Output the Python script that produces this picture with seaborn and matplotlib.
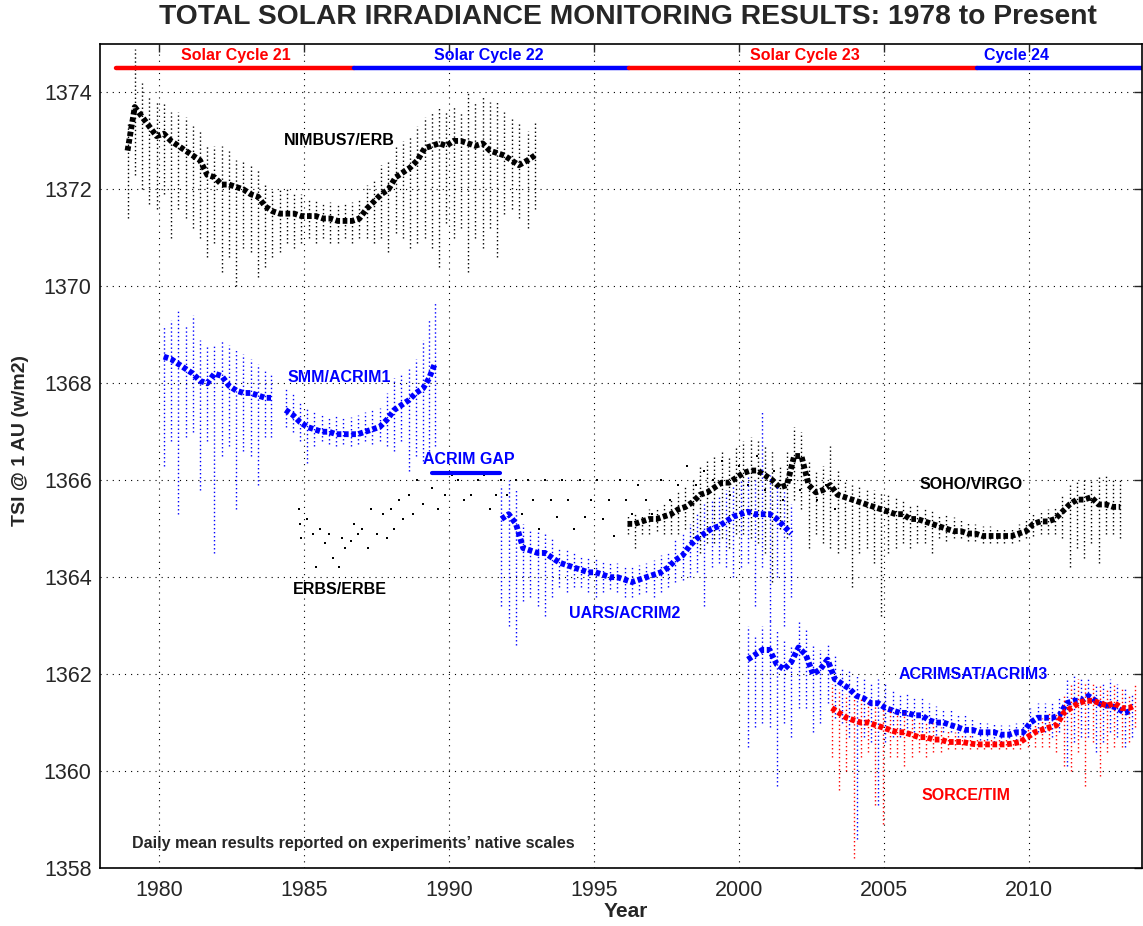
#!/usr/bin/env python3
# -*- coding: utf-8 -*-
"""
TSI monitoring results 1978 - present (daily mean, native scales)
"""

import numpy as np
import matplotlib
matplotlib.use('Agg')
import matplotlib.pyplot as plt
import seaborn as sns

sns.set_style('white')
plt.rcParams['font.family'] = ['Liberation Sans', 'DejaVu Sans']

BLACK = '#000000'
BLUE = '#0000ff'
RED = '#ff0000'

# ---- NIMBUS7/ERB: year, upper spread, core, lower spread
NIMBUS_YEAR = [1978.9, 1979.15, 1979.4, 1979.65, 1979.9, 1980.15, 1980.4, 1980.65, 1980.9,
               1981.15, 1981.4, 1981.65, 1981.9, 1982.15, 1982.4, 1982.65, 1982.9,
               1983.15, 1983.4, 1983.65, 1983.9, 1984.15, 1984.4, 1984.65, 1984.9,
               1985.15, 1985.4, 1985.65, 1985.9, 1986.15, 1986.4, 1986.65, 1986.9,
               1987.15, 1987.4, 1987.65, 1987.9, 1988.15, 1988.4, 1988.65, 1988.9,
               1989.15, 1989.4, 1989.65, 1989.9, 1990.15, 1990.4, 1990.65, 1990.9,
               1991.15, 1991.4, 1991.65, 1991.9, 1992.15, 1992.4, 1992.7, 1992.95]
NIMBUS_HI = [1373.4, 1374.9, 1374.2, 1373.9, 1373.8, 1373.8, 1373.6, 1373.6, 1373.5,
             1373.3, 1373.2, 1372.9, 1372.9, 1372.9, 1372.8, 1372.6, 1372.6,
             1372.5, 1372.4, 1372.1, 1372.0, 1372.0, 1372.0, 1371.9, 1371.9,
             1371.8, 1371.8, 1371.75, 1371.75, 1371.7, 1371.7, 1371.75, 1371.8,
             1372.1, 1372.2, 1372.5, 1372.6, 1372.9, 1373.0, 1373.1, 1373.3,
             1373.5, 1373.6, 1373.7, 1373.6, 1373.7, 1373.6, 1374.0, 1373.8,
             1373.9, 1373.8, 1373.8, 1373.6, 1373.5, 1373.4, 1373.2, 1373.4]
NIMBUS_MID = [1372.8, 1373.7, 1373.5, 1373.3, 1373.1, 1373.15, 1373.0, 1372.9, 1372.8,
              1372.7, 1372.6, 1372.3, 1372.25, 1372.1, 1372.1, 1372.05, 1372.0,
              1371.9, 1371.85, 1371.65, 1371.55, 1371.5, 1371.5, 1371.5, 1371.45,
              1371.45, 1371.45, 1371.4, 1371.4, 1371.35, 1371.35, 1371.35, 1371.4,
              1371.6, 1371.75, 1371.9, 1372.0, 1372.25, 1372.35, 1372.45, 1372.6,
              1372.85, 1372.9, 1372.95, 1372.9, 1373.0, 1373.0, 1372.95, 1372.9,
              1372.95, 1372.8, 1372.75, 1372.7, 1372.6, 1372.5, 1372.6, 1372.7]
NIMBUS_LO = [1371.4, 1372.3, 1372.0, 1371.7, 1371.6, 1371.9, 1371.0, 1371.6, 1371.4,
             1371.2, 1371.0, 1370.6, 1370.9, 1370.3, 1370.6, 1370.0, 1370.8,
             1370.7, 1370.2, 1370.4, 1370.6, 1370.7, 1370.9, 1370.8, 1370.9,
             1371.0, 1370.9, 1371.0, 1370.9, 1370.9, 1371.0, 1370.9, 1371.0,
             1371.0, 1370.9, 1371.0, 1370.7, 1371.1, 1371.0, 1370.8, 1370.9,
             1371.0, 1370.8, 1370.4, 1371.3, 1371.0, 1371.2, 1370.3, 1371.0,
             1370.8, 1371.2, 1370.6, 1371.5, 1371.6, 1371.4, 1371.2, 1371.6]

# ---- SMM/ACRIM1 (two segments: before / after the 1984 repair)
ACRIM1_YEAR = [1980.15, 1980.4, 1980.65, 1980.9, 1981.15, 1981.4, 1981.65, 1981.9,
               1982.15, 1982.4, 1982.65, 1982.9, 1983.15, 1983.4, 1983.65, 1983.85,
               1984.35, 1984.6, 1984.85, 1985.1, 1985.35, 1985.6, 1985.85, 1986.1,
               1986.35, 1986.6, 1986.85, 1987.1, 1987.35, 1987.6, 1987.85, 1988.1,
               1988.35, 1988.6, 1988.85, 1989.1, 1989.3, 1989.5]
ACRIM1_HI = [1369.2, 1369.3, 1369.5, 1369.2, 1369.4, 1368.9, 1368.8, 1368.8,
             1368.9, 1368.8, 1368.7, 1368.6, 1368.5, 1368.4, 1368.3, 1368.2,
             1367.9, 1367.8, 1367.6, 1367.5, 1367.4, 1367.35, 1367.3, 1367.35,
             1367.3, 1367.3, 1367.35, 1367.4, 1367.45, 1367.5, 1367.8, 1368.1,
             1368.2, 1368.3, 1368.5, 1368.9, 1369.3, 1369.7]
ACRIM1_MID = [1368.55, 1368.5, 1368.4, 1368.3, 1368.2, 1368.05, 1368.0, 1368.2,
              1368.15, 1367.95, 1367.85, 1367.8, 1367.8, 1367.75, 1367.7, 1367.7,
              1367.45, 1367.35, 1367.2, 1367.1, 1367.05, 1367.0, 1367.0, 1366.95,
              1366.95, 1366.95, 1366.95, 1367.0, 1367.05, 1367.1, 1367.25, 1367.45,
              1367.55, 1367.65, 1367.8, 1367.9, 1368.1, 1368.4]
ACRIM1_LO = [1366.3, 1366.8, 1365.3, 1366.9, 1367.0, 1365.8, 1366.8, 1364.5,
             1366.5, 1366.7, 1365.4, 1366.6, 1366.5, 1365.9, 1366.9, 1366.9,
             1367.1, 1367.0, 1366.8, 1366.35, 1366.7, 1366.8, 1366.75, 1366.7,
             1366.75, 1366.7, 1366.75, 1366.8, 1366.75, 1366.8, 1366.7, 1366.6,
             1366.8, 1366.2, 1366.5, 1366.4, 1366.6, 1366.7]
ACRIM1_SPLIT = 16

# ---- UARS/ACRIM2
ACRIM2_YEAR = [1991.8, 1992.05, 1992.3, 1992.55, 1992.8, 1993.05, 1993.3, 1993.55,
               1993.8, 1994.05, 1994.3, 1994.55, 1994.8, 1995.05, 1995.3, 1995.55,
               1995.8, 1996.05, 1996.3, 1996.55, 1996.8, 1997.05, 1997.3, 1997.55,
               1997.8, 1998.05, 1998.3, 1998.55, 1998.8, 1999.05, 1999.3, 1999.55,
               1999.8, 2000.05, 2000.3, 2000.55, 2000.8, 2001.05, 2001.3, 2001.55,
               2001.8]
ACRIM2_HI = [1365.9, 1366.0, 1365.8, 1365.1, 1365.0, 1364.95, 1364.9, 1364.8,
             1364.6, 1364.6, 1364.5, 1364.45, 1364.4, 1364.4, 1364.35, 1364.3,
             1364.3, 1364.25, 1364.2, 1364.25, 1364.3, 1364.35, 1364.45, 1364.55,
             1364.8, 1364.9, 1365.1, 1365.3, 1365.5, 1365.6, 1365.7, 1365.8,
             1365.9, 1366.0, 1366.1, 1366.0, 1367.4, 1366.1, 1365.9, 1365.8,
             1365.5]
ACRIM2_MID = [1365.2, 1365.3, 1365.1, 1364.6, 1364.55, 1364.5, 1364.5, 1364.4,
              1364.3, 1364.25, 1364.2, 1364.15, 1364.1, 1364.1, 1364.05, 1364.0,
              1364.0, 1363.95, 1363.9, 1363.95, 1364.0, 1364.05, 1364.1, 1364.2,
              1364.35, 1364.45, 1364.65, 1364.8, 1364.9, 1365.0, 1365.05, 1365.15,
              1365.25, 1365.3, 1365.35, 1365.3, 1365.3, 1365.3, 1365.2, 1365.05,
              1364.9]
ACRIM2_LO = [1363.4, 1363.0, 1362.6, 1363.5, 1363.6, 1363.4, 1363.2, 1363.6,
             1363.8, 1363.7, 1363.8, 1363.8, 1363.7, 1363.6, 1363.7, 1363.75,
             1363.7, 1363.6, 1363.6, 1363.65, 1363.7, 1363.6, 1363.7, 1363.8,
             1363.9, 1363.95, 1364.0, 1364.1, 1363.4, 1364.2, 1364.3, 1364.2,
             1364.0, 1364.2, 1364.3, 1363.4, 1364.2, 1363.1, 1364.0, 1363.0,
             1363.6]

# ---- SOHO/VIRGO
VIRGO_YEAR = [1996.15, 1996.4, 1996.65, 1996.9, 1997.15, 1997.4, 1997.65, 1997.9,
              1998.15, 1998.4, 1998.65, 1998.9, 1999.15, 1999.4, 1999.65, 1999.9,
              2000.15, 2000.4, 2000.65, 2000.9, 2001.15, 2001.4, 2001.65, 2001.9,
              2002.15, 2002.4, 2002.65, 2002.9, 2003.15, 2003.4, 2003.65, 2003.9,
              2004.15, 2004.4, 2004.65, 2004.9, 2005.15, 2005.4, 2005.65, 2005.9,
              2006.15, 2006.4, 2006.65, 2006.9, 2007.15, 2007.4, 2007.65, 2007.9,
              2008.15, 2008.4, 2008.65, 2008.9, 2009.15, 2009.4, 2009.65, 2009.9,
              2010.15, 2010.4, 2010.65, 2010.9, 2011.15, 2011.4, 2011.65, 2011.9,
              2012.15, 2012.4, 2012.65, 2012.9, 2013.15]
VIRGO_HI = [1365.3, 1365.3, 1365.3, 1365.4, 1365.45, 1365.5, 1365.6, 1365.8,
            1365.9, 1366.0, 1366.3, 1366.4, 1366.5, 1366.6, 1366.5, 1366.7,
            1366.8, 1366.9, 1366.8, 1366.7, 1366.6, 1366.3, 1366.6, 1367.1,
            1367.0, 1366.4, 1366.2, 1366.3, 1366.7, 1366.2, 1366.0, 1365.9,
            1365.9, 1365.8, 1365.8, 1365.75, 1365.7, 1365.65, 1365.6, 1365.5,
            1365.5, 1365.4, 1365.4, 1365.3, 1365.3, 1365.25, 1365.2, 1365.15,
            1365.1, 1365.05, 1365.05, 1365.0, 1365.0, 1365.0, 1365.1, 1365.2,
            1365.3, 1365.35, 1365.4, 1365.45, 1365.7, 1365.9, 1366.0, 1366.0,
            1366.0, 1366.1, 1366.1, 1366.0, 1366.0]
VIRGO_MID = [1365.1, 1365.1, 1365.15, 1365.2, 1365.2, 1365.25, 1365.3, 1365.4,
             1365.45, 1365.55, 1365.7, 1365.75, 1365.85, 1365.95, 1365.95, 1366.05,
             1366.15, 1366.2, 1366.2, 1366.1, 1366.0, 1365.85, 1365.9, 1366.5,
             1366.5, 1365.9, 1365.75, 1365.8, 1365.9, 1365.7, 1365.65, 1365.6,
             1365.55, 1365.5, 1365.45, 1365.4, 1365.35, 1365.3, 1365.3, 1365.2,
             1365.2, 1365.15, 1365.1, 1365.05, 1365.0, 1364.95, 1364.95, 1364.9,
             1364.9, 1364.85, 1364.85, 1364.85, 1364.85, 1364.85, 1364.9, 1364.95,
             1365.1, 1365.15, 1365.15, 1365.2, 1365.35, 1365.5, 1365.6, 1365.6,
             1365.65, 1365.5, 1365.5, 1365.45, 1365.45]
VIRGO_LO = [1364.9, 1364.6, 1364.9, 1364.9, 1364.95, 1364.9, 1364.9, 1364.9,
            1365.0, 1364.8, 1364.5, 1364.7, 1364.7, 1364.8, 1364.6, 1364.9,
            1364.9, 1364.8, 1364.7, 1364.5, 1363.9, 1365.0, 1364.8, 1365.6,
            1365.4, 1364.6, 1364.9, 1364.7, 1364.6, 1364.5, 1364.6, 1363.8,
            1364.5, 1364.6, 1364.3, 1363.2, 1364.5, 1364.6, 1364.7, 1364.6,
            1364.7, 1364.7, 1364.5, 1364.8, 1364.75, 1364.8, 1364.8, 1364.75,
            1364.75, 1364.7, 1364.7, 1364.7, 1364.7, 1364.7, 1364.75, 1364.8,
            1364.85, 1364.9, 1364.9, 1364.9, 1364.8, 1364.2, 1364.6, 1364.4,
            1364.7, 1364.3, 1364.9, 1364.9, 1364.8]

# ---- ACRIMSAT/ACRIM3
ACRIM3_YEAR = [2000.3, 2000.55, 2000.8, 2001.05, 2001.3, 2001.55, 2001.8, 2002.05,
               2002.3, 2002.55, 2002.8, 2003.05, 2003.3, 2003.55, 2003.8, 2004.05,
               2004.3, 2004.55, 2004.8, 2005.05, 2005.3, 2005.55, 2005.8, 2006.05,
               2006.3, 2006.55, 2006.8, 2007.05, 2007.3, 2007.55, 2007.8, 2008.05,
               2008.3, 2008.55, 2008.8, 2009.05, 2009.3, 2009.55, 2009.8, 2010.05,
               2010.3, 2010.55, 2010.8, 2011.05, 2011.3, 2011.55, 2011.8, 2012.05,
               2012.3, 2012.55, 2012.8, 2013.05, 2013.3, 2013.55]
ACRIM3_HI = [1363.0, 1362.8, 1363.0, 1363.1, 1362.9, 1362.7, 1362.6, 1363.1,
             1362.9, 1362.6, 1362.5, 1362.6, 1362.4, 1362.1, 1362.1, 1362.0,
             1361.9, 1361.8, 1361.9, 1361.8, 1361.7, 1361.6, 1361.6, 1361.5,
             1361.5, 1361.4, 1361.35, 1361.3, 1361.25, 1361.2, 1361.15, 1361.1,
             1361.05, 1361.0, 1361.0, 1360.95, 1360.95, 1361.0, 1361.05, 1361.3,
             1361.4, 1361.4, 1361.4, 1361.5, 1361.9, 1362.0, 1361.9, 1361.9,
             1361.8, 1361.8, 1361.9, 1361.8, 1361.7, 1361.6]
ACRIM3_MID = [1362.3, 1362.4, 1362.5, 1362.5, 1362.2, 1362.1, 1362.25, 1362.55,
              1362.4, 1362.0, 1362.1, 1362.3, 1361.9, 1361.8, 1361.7, 1361.55,
              1361.5, 1361.4, 1361.4, 1361.3, 1361.25, 1361.2, 1361.2, 1361.15,
              1361.15, 1361.05, 1361.0, 1361.0, 1360.95, 1360.9, 1360.85, 1360.85,
              1360.8, 1360.8, 1360.8, 1360.75, 1360.75, 1360.8, 1360.8, 1361.0,
              1361.1, 1361.1, 1361.1, 1361.15, 1361.4, 1361.45, 1361.45, 1361.55,
              1361.45, 1361.35, 1361.35, 1361.3, 1361.2, 1361.25]
ACRIM3_LO = [1360.5, 1360.9, 1361.0, 1360.9, 1359.7, 1361.0, 1360.7, 1361.3,
             1361.3, 1360.8, 1361.0, 1361.4, 1361.1, 1361.0, 1360.7, 1358.6,
             1360.7, 1360.6, 1359.3, 1360.6, 1360.7, 1360.7, 1360.8, 1360.8,
             1360.8, 1360.8, 1360.75, 1360.8, 1360.8, 1360.7, 1360.7, 1360.7,
             1360.65, 1360.65, 1360.6, 1360.6, 1360.6, 1360.65, 1360.65, 1360.7,
             1360.8, 1360.8, 1360.7, 1360.8, 1360.1, 1360.6, 1360.7, 1360.7,
             1360.4, 1360.6, 1360.8, 1360.7, 1360.5, 1360.7]

# ---- SORCE/TIM
TIM_YEAR = [2003.2, 2003.45, 2003.7, 2003.95, 2004.2, 2004.45, 2004.7, 2004.95,
            2005.2, 2005.45, 2005.7, 2005.95, 2006.2, 2006.45, 2006.7, 2006.95,
            2007.2, 2007.45, 2007.7, 2007.95, 2008.2, 2008.45, 2008.7, 2008.95,
            2009.2, 2009.45, 2009.7, 2009.95, 2010.2, 2010.45, 2010.7, 2010.95,
            2011.2, 2011.45, 2011.7, 2011.95, 2012.2, 2012.45, 2012.7, 2012.95,
            2013.2, 2013.45, 2013.65]
TIM_HI = [1361.8, 1361.7, 1361.6, 1361.5, 1361.5, 1361.4, 1361.35, 1361.3,
          1361.3, 1361.2, 1361.2, 1361.1, 1361.05, 1361.0, 1361.0, 1360.9,
          1360.85, 1360.8, 1360.75, 1360.75, 1360.7, 1360.7, 1360.7, 1360.7,
          1360.7, 1360.7, 1360.75, 1360.9, 1361.0, 1361.1, 1361.2, 1361.2,
          1361.6, 1361.8, 1361.9, 1361.8, 1361.8, 1361.8, 1361.7, 1361.8,
          1361.7, 1361.6, 1361.8]
TIM_MID = [1361.3, 1361.2, 1361.1, 1361.05, 1361.0, 1361.0, 1360.95, 1360.9,
           1360.85, 1360.8, 1360.8, 1360.75, 1360.7, 1360.7, 1360.65, 1360.65,
           1360.6, 1360.6, 1360.6, 1360.57, 1360.55, 1360.55, 1360.55, 1360.55,
           1360.55, 1360.57, 1360.6, 1360.7, 1360.8, 1360.85, 1360.9, 1360.95,
           1361.2, 1361.3, 1361.4, 1361.45, 1361.45, 1361.4, 1361.35, 1361.4,
           1361.3, 1361.3, 1361.35]
TIM_LO = [1360.3, 1359.6, 1360.0, 1358.2, 1360.3, 1360.4, 1359.3, 1358.9,
          1360.3, 1360.3, 1360.1, 1360.3, 1360.4, 1360.3, 1360.4, 1360.4,
          1360.45, 1360.45, 1360.45, 1360.45, 1360.45, 1360.45, 1360.45, 1360.45,
          1360.45, 1360.45, 1360.45, 1360.5, 1360.5, 1360.5, 1360.5, 1360.4,
          1360.1, 1360.0, 1360.4, 1359.7, 1360.6, 1359.9, 1360.4, 1360.5,
          1360.5, 1360.6, 1360.9]

# ---- ERBS/ERBE (sparse, bi-weekly)
ERBE_YEAR = [1984.8, 1984.85, 1984.9, 1985.1, 1985.3, 1985.4, 1985.55, 1985.7, 1985.85,
             1986.0, 1986.2, 1986.3, 1986.4, 1986.6, 1986.7, 1986.85, 1987.0, 1987.2,
             1987.3, 1987.5, 1987.7, 1987.85, 1988.0, 1988.1, 1988.25, 1988.4, 1988.6,
             1988.75, 1988.9, 1989.1, 1989.4, 1989.6, 1989.85, 1990.1, 1990.3, 1990.5,
             1990.75, 1991.0, 1991.2, 1991.4, 1991.6, 1991.8, 1992.0, 1992.3, 1992.5,
             1992.7, 1992.9, 1993.1, 1993.3, 1993.5, 1993.7, 1993.9, 1994.1, 1994.3,
             1994.5, 1994.7, 1994.9, 1995.1, 1995.3, 1995.5, 1995.7, 1995.9, 1996.1,
             1996.3, 1996.5, 1996.8, 1997.0, 1997.3, 1997.6, 1997.9, 1998.2, 1998.5,
             1998.8, 1999.1, 1999.4, 1999.7, 2000.0, 2000.3, 2000.6, 2000.9, 2001.2,
             2001.5, 2001.8, 2002.1, 2002.4, 2002.7, 2003.0, 2003.3]
ERBE_TSI = [1365.4, 1365.1, 1364.8, 1365.2, 1364.9, 1364.2, 1365.0, 1364.7, 1364.9,
            1364.4, 1364.2, 1364.8, 1364.6, 1364.75, 1365.1, 1364.9, 1365.0, 1364.6,
            1365.4, 1364.9, 1365.3, 1364.8, 1365.4, 1365.0, 1365.6, 1365.2, 1365.7,
            1365.3, 1366.0, 1365.5, 1365.85, 1365.4, 1365.7, 1366.1, 1366.0, 1365.6,
            1365.7, 1366.0, 1366.1, 1365.4, 1365.7, 1366.0, 1365.7, 1366.0, 1365.3,
            1366.0, 1365.6, 1365.0, 1366.0, 1365.6, 1365.25, 1366.0, 1365.6, 1365.0,
            1366.0, 1365.25, 1365.6, 1366.0, 1365.2, 1365.6, 1364.85, 1366.0, 1365.6,
            1365.3, 1365.9, 1365.6, 1365.3, 1366.0, 1365.6, 1365.9, 1366.3, 1365.9,
            1366.2, 1366.0, 1366.4, 1365.7, 1366.3, 1365.9, 1366.5, 1365.8, 1366.2,
            1365.6, 1366.0, 1365.8, 1366.1, 1365.6, 1365.9, 1365.4]

# ---- solar cycle bar along the top
CYCLE_START = [1978.5, 1986.7, 1996.2, 2008.2]
CYCLE_END = [1986.7, 1996.2, 2008.2, 2013.9]
CYCLE_COLOR = [RED, BLUE, RED, BLUE]
CYCLE_LABEL = ['Solar Cycle 21', 'Solar Cycle 22', 'Solar Cycle 23', 'Cycle 24']
CYCLE_LABEL_X = [1982.64, 1991.36, 2002.26, 2009.57]
CYCLE_LEVEL = 1374.5

# ---- ACRIM gap marker
GAP_START, GAP_END, GAP_LEVEL = 1989.42, 1991.75, 1366.14

# ---- instrument labels
LABELS = [
    ('NIMBUS7/ERB', 1986.2, 1373.0, BLACK),
    ('SMM/ACRIM1', 1986.2, 1368.12, BLUE),
    ('ACRIM GAP', 1990.67, 1366.42, BLUE),
    ('ERBS/ERBE', 1986.24, 1363.74, BLACK),
    ('UARS/ACRIM2', 1996.05, 1363.26, BLUE),
    ('SOHO/VIRGO', 2008.0, 1365.92, BLACK),
    ('ACRIMSAT/ACRIM3', 2008.06, 1361.99, BLUE),
    ('SORCE/TIM', 2007.83, 1359.5, RED),
]

XLIM = (1977.95, 2013.9)
YLIM = (1358, 1375)


def draw_instrument(ax, year, hi, mid, lo, color):
    """Daily scatter cloud: dotted spread columns + dense core"""
    ax.vlines(year, lo, hi, colors=color, linestyles=(0, (1, 1.9)), linewidth=1.0)
    sns.lineplot(x=year, y=mid, ax=ax, color=color, linewidth=4.2,
                 linestyle=(0, (0.8, 0.45)), estimator=None, sort=False, legend=False)


def main():
    fig = plt.figure(figsize=(11.43, 9.26), dpi=100)
    ax = fig.add_axes([100 / 1143, 58 / 926, 1042 / 1143, 824 / 926])

    draw_instrument(ax, NIMBUS_YEAR, NIMBUS_HI, NIMBUS_MID, NIMBUS_LO, BLACK)
    draw_instrument(ax, VIRGO_YEAR, VIRGO_HI, VIRGO_MID, VIRGO_LO, BLACK)
    sns.scatterplot(x=ERBE_YEAR, y=ERBE_TSI, ax=ax, color=BLACK, marker='s', s=4,
                    linewidth=0, legend=False)
    k = ACRIM1_SPLIT
    draw_instrument(ax, ACRIM1_YEAR[:k], ACRIM1_HI[:k], ACRIM1_MID[:k], ACRIM1_LO[:k], BLUE)
    draw_instrument(ax, ACRIM1_YEAR[k:], ACRIM1_HI[k:], ACRIM1_MID[k:], ACRIM1_LO[k:], BLUE)
    draw_instrument(ax, ACRIM2_YEAR, ACRIM2_HI, ACRIM2_MID, ACRIM2_LO, BLUE)
    draw_instrument(ax, ACRIM3_YEAR, ACRIM3_HI, ACRIM3_MID, ACRIM3_LO, BLUE)
    draw_instrument(ax, TIM_YEAR, TIM_HI, TIM_MID, TIM_LO, RED)

    # solar cycle bar
    for x0, x1, c in zip(CYCLE_START, CYCLE_END, CYCLE_COLOR):
        ax.plot([x0, x1], [CYCLE_LEVEL, CYCLE_LEVEL], color=c, lw=3.2,
                solid_capstyle='round')
    for lab, x, c in zip(CYCLE_LABEL, CYCLE_LABEL_X, CYCLE_COLOR):
        ax.text(x, 1374.76, lab, color=c, fontsize=11.5, fontweight='bold',
                ha='center', va='center')

    ax.plot([GAP_START, GAP_END], [GAP_LEVEL, GAP_LEVEL], color=BLUE, lw=3)

    for lab, x, y, c in LABELS:
        ax.text(x, y, lab, color=c, fontsize=11.5, fontweight='bold',
                ha='center', va='center')

    ax.text(1979.05, 1358.5, 'Daily mean results reported on experiments\u2019 native scales',
            fontsize=11.5, fontweight='bold', ha='left', va='center')

    ax.set_xlim(*XLIM)
    ax.set_ylim(*YLIM)
    ax.set_xticks(np.arange(1980, 2011, 5))
    ax.set_yticks(np.arange(1358, 1375, 2))
    ax.tick_params(direction='in', length=6, width=1, top=True, right=True,
                   labelsize=15.5)
    ax.tick_params(axis='x', pad=9)
    ax.tick_params(axis='y', pad=6)
    ax.grid(True, color='black', linestyle=(0, (1, 4.5)), linewidth=0.8)
    for sp in ax.spines.values():
        sp.set_linewidth(1.2)
        sp.set_color('black')

    ax.set_xlabel('Year', fontsize=15, fontweight='bold')
    ax.xaxis.set_label_coords(0.505, -0.041)
    ax.set_ylabel('TSI @ 1 AU (w/m2)', fontsize=14, fontweight='bold')
    ax.yaxis.set_label_coords(-0.068, 0.519)

    fig.text(628 / 1143, 1 - 17 / 926,
             'TOTAL SOLAR IRRADIANCE MONITORING RESULTS: 1978 to Present',
             fontsize=20.3, fontweight='bold', ha='center', va='center')

    fig.savefig('out.png', dpi=100)
    plt.close(fig)


if __name__ == '__main__':
    main()
